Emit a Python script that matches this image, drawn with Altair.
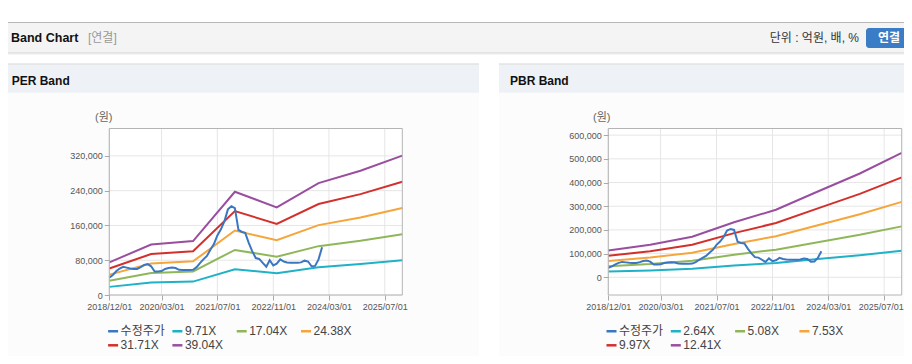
import altair as alt
import pandas as pd

W, H = 896, 348
FONT = "Liberation Sans, Noto Sans CJK KR"

# ---------------- data ----------------
price_dates = pd.date_range("2018-12-01", periods=62, freq="MS").strftime("%Y-%m-%d").tolist()
price = [40000, 46000, 55000, 61000, 65000, 63000, 61000, 60000, 60000, 64000, 69000, 71000,
         66000, 54000, 54000, 55000, 60000, 62000, 63000, 62000, 58000, 57500, 57500, 57500,
         58000, 64000, 74000, 82000, 90000, 104000, 117000, 137000, 151000, 170000, 197000, 204000,
         200000, 150000, 145000, 143000, 120000, 101000, 85000, 83000, 74000, 65000, 80000, 68000,
         72000, 82000, 77000, 75000, 74000, 74000, 74000, 75000, 79000, 77000, 66000, 67000,
         82000, 110000]

band_dates = ["2018-12-01", "2019-12-01", "2020-12-01", "2021-12-01",
              "2022-12-01", "2023-12-01", "2024-12-01", "2025-12-01"]

per_names = ["수정주가", "9.71X", "17.04X", "24.38X", "31.71X", "39.04X"]
per_971 = [18700, 28900, 30800, 59100, 50100, 64000, 71100, 79800]
per_1704 = [32700, 50700, 54100, 103700, 88000, 112400, 124700, 140000]
per_2438 = [46800, 72500, 77400, 148300, 125900, 160800, 178500, 200300]
per_3171 = [60900, 94300, 100700, 192900, 163700, 209200, 232100, 260500]
per_3904 = [75000, 116100, 124000, 237500, 201600, 257500, 285800, 320700]

pbr_names = ["수정주가", "2.64X", "5.08X", "7.53X", "9.97X", "12.41X"]
pbr_264 = [24000, 29100, 36400, 49400, 60600, 77000, 93200, 111700]
pbr_508 = [46200, 56100, 70000, 95000, 116700, 148200, 179300, 214900]
pbr_753 = [68500, 83100, 103800, 140800, 173000, 219700, 265800, 318500]
pbr_997 = [90700, 110100, 137400, 186400, 229000, 290800, 351900, 421700]
pbr_1241 = [112900, 137000, 171000, 232100, 285100, 362000, 438100, 525000]

colors = ["#3a77c2", "#1fb1c6", "#8fb75a", "#f6a53a", "#d3302c", "#9a4e9f"]

x_ticks = ["2018-12-01", "2020-03-01", "2021-07-01", "2022-11-01", "2024-03-01", "2025-07-01"]
x_start, x_end = "2018-12-01", "2025-12-01"
per_yticks = [0, 80000, 160000, 240000, 320000]
pbr_yticks = [0, 100000, 200000, 300000, 400000, 500000, 600000]


def dt(s):
    y, m, d = (int(v) for v in s.split("-"))
    return alt.DateTime(year=y, month=m, date=d, utc=True)


def long_df(names, bands):
    rows = []
    for name, vals in zip(names[1:], bands):
        for d, v in zip(band_dates, vals):
            rows.append({"series": name, "date": d, "value": v})
    for d, v in zip(price_dates, price):
        rows.append({"series": names[0], "date": d, "value": v})
    return pd.DataFrame(rows)


dummy = pd.DataFrame({"k": [0]})


def txt(t, x, y, size=12, weight="normal", color="#333", align="left"):
    return alt.Chart(dummy).mark_text(text=t, align=align, baseline="middle", fontSize=size,
                                      fontWeight=weight, color=color, font=FONT).encode(
        x=alt.value(x), y=alt.value(y))


def box(x, x2, y, y2, fill, **kw):
    return alt.Chart(dummy).mark_rect(fill=fill, **kw).encode(
        x=alt.value(x), x2=alt.value(x2), y=alt.value(y), y2=alt.value(y2))


def hline(x, x2, y, color, width=1):
    return alt.Chart(dummy).mark_rule(color=color, strokeWidth=width).encode(
        x=alt.value(x), x2=alt.value(x2), y=alt.value(y))


def panel(names, bands, yticks, ydom, xr, legend_x, last_shift):
    xs = alt.Scale(type="utc", domain=[dt(x_start), dt(x_end)], range=xr, nice=False)
    ys = alt.Scale(domain=ydom, range=[287, 120.5], nice=False, zero=False)
    fdf = pd.DataFrame({"d0": [x_start], "d1": [x_end], "lo": [ydom[0]], "hi": [ydom[1]]})
    frame_fill = alt.Chart(fdf).mark_rect(fill="white").encode(
        x=alt.X("d0:T", scale=xs, axis=None), x2="d1:T",
        y=alt.Y("lo:Q", scale=ys, axis=None), y2="hi:Q")
    ygrid = alt.Chart(pd.DataFrame({"v": yticks, "d0": x_start, "d1": x_end})).mark_rule(
        color="#e6e6e6").encode(
        y=alt.Y("v:Q", scale=ys, axis=None), x=alt.X("d0:T", scale=xs, axis=None), x2="d1:T")
    xgrid = alt.Chart(pd.DataFrame({"d": x_ticks, "lo": ydom[0], "hi": ydom[1]})).mark_rule(
        color="#e6e6e6").encode(
        x=alt.X("d:T", scale=xs, axis=None), y=alt.Y("lo:Q", scale=ys, axis=None), y2="hi:Q")
    lines = alt.Chart(long_df(names, bands)).mark_line(strokeWidth=2).encode(
        x=alt.X("date:T", scale=xs, axis=alt.Axis(
            orient="bottom", offset=287 - H, values=[dt(s) for s in x_ticks], format="%Y/%m/%d",
            domain=False, grid=False, tickColor="#aaaaaa", tickSize=5, labelPadding=2,
            labelFont=FONT, labelFontSize=9, labelColor="#555555", labelFlush=False,
            labelOverlap=False, title=None, zindex=2,
            labelOffset={"condition": {"test": "datum.value >= utc(2025, 5, 1)", "value": last_shift},
                         "value": 0})),
        y=alt.Y("value:Q", scale=ys, axis=alt.Axis(
            orient="left", offset=-xr[0], values=yticks, format=",d", domain=False, grid=False,
            tickColor="#aaaaaa", tickSize=5, labelPadding=2, labelFont=FONT, labelFontSize=9,
            labelColor="#555555", title=None, zindex=2)),
        color=alt.Color("series:N", scale=alt.Scale(domain=names, range=colors), legend=alt.Legend(
            orient="none", legendX=legend_x, legendY=316.5, direction="horizontal", columns=4,
            gridAlign="all", symbolType="stroke", symbolSize=100, symbolStrokeWidth=2.5,
            labelFont=FONT, labelFontSize=12, labelColor="#444444", labelOffset=1,
            columnPadding=1.3, rowPadding=1.3, padding=0, title=None, zindex=2)),
    )
    frame = alt.Chart(fdf).mark_rect(fillOpacity=0, stroke="#b4b4b4", strokeWidth=1).encode(
        x=alt.X("d0:T", scale=xs, axis=None), x2="d1:T",
        y=alt.Y("lo:Q", scale=ys, axis=None), y2="hi:Q")
    return [frame_fill, ygrid, xgrid, lines, frame]


layers = [
    # top header bar
    hline(0, W, 14.5, "#b8b8b8"),
    box(0, W, 15, 44.5, "#f4f4f4"),
    hline(0, W, 45, "#cdcdcd"),
    hline(0, W, 46, "#ececec"),
    txt("Band Chart", 3, 30, size=12.5, weight="bold", color="#111"),
    txt("[연결]", 80, 30, size=12, color="#999999"),
    txt("단위 : 억원, 배, %", 851, 30, size=12, color="#333", align="right"),
    box(858, W + 8, 20, 40, "#3b7cc7", cornerRadius=3),
    txt("연결", 881, 30, size=12, weight="bold", color="white", align="center"),
    # panels
    box(0, 471, 84.7, H, "#fcfcfc"),
    box(491, W, 84.7, H, "#fcfcfc"),
    box(0, 471, 56.5, 84.7, "#eef2f6"),
    box(491, W, 56.5, 84.7, "#eef2f6"),
    hline(0, 471, 56, "#d4d4d4"),
    hline(491, W, 56, "#d4d4d4"),
    txt("PER Band", 3.7, 72.7, size=12, weight="bold", color="#111"),
    txt("PBR Band", 502, 72.7, size=12, weight="bold", color="#111"),
    txt("(원)", 87, 110, size=11, color="#666"),
    txt("(원)", 585, 110, size=11, color="#666"),
]
layers += panel(per_names, [per_971, per_1704, per_2438, per_3171, per_3904],
                per_yticks, [0, 383000], [101.3, 394.3], 98.6, 0)
layers += panel(pbr_names, [pbr_264, pbr_508, pbr_753, pbr_997, pbr_1241],
                pbr_yticks, [-74700, 628000], [600.3, 893.7], 597, -3.5)

chart = alt.layer(*layers).properties(
    width=W, height=H, padding=0, background="white",
    autosize=alt.AutoSizeParams(type="none"),
).resolve_scale(x="independent", y="independent", color="independent").configure_view(strokeWidth=0)

chart.save("out.html", embed_options={"renderer": "svg", "actions": False})
